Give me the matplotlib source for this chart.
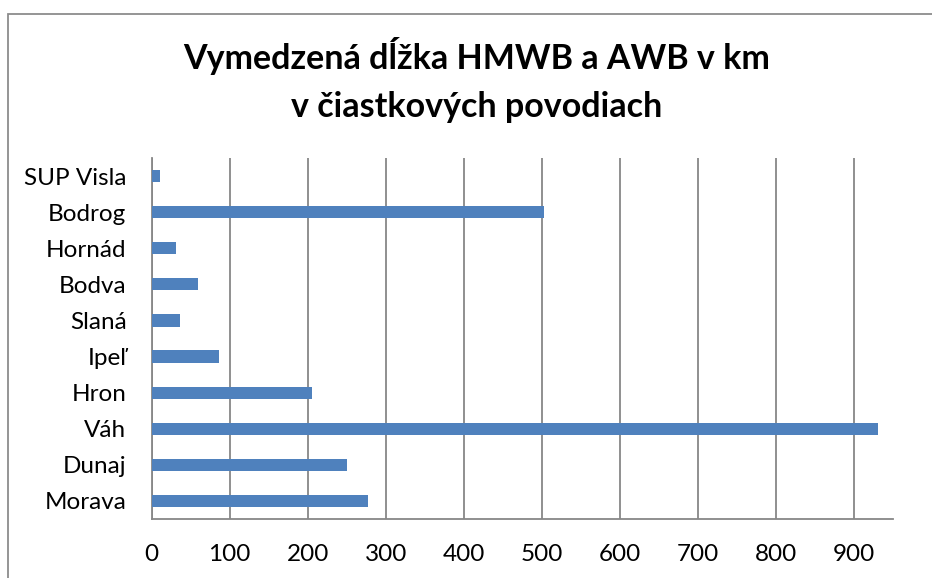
import matplotlib
matplotlib.use("Agg")
import matplotlib.pyplot as plt
from matplotlib.patches import Rectangle

# data (km)
basins = ["Morava", "Dunaj", "Váh", "Hron", "Ipeľ", "Slaná",
          "Bodva", "Hornád", "Bodrog", "SUP Visla"]
lengths = [277, 251, 931, 206, 87, 36, 60, 31, 503, 11]
x_ticks = [0, 100, 200, 300, 400, 500, 600, 700, 800, 900]

bar_color = "#4F81BD"
grid_color = "#878787"

plt.rcParams["font.family"] = ["Lato", "DejaVu Sans"]

fig = plt.figure(figsize=(9.32, 5.78), dpi=100)
fig.patch.set_facecolor("white")

# outer chart frame (cropped on right and bottom)
frame = Rectangle((8 / 932, -0.5), 2, 0.5 + (1 - 14 / 578),
                  transform=fig.transFigure, fill=False,
                  edgecolor="#8c8c8c", linewidth=1.3)
fig.patches.append(frame)

ax = fig.add_axes([151.5 / 932, 1 - 519 / 578, (893 - 151.5) / 932, (519 - 158) / 578])

y = range(len(basins))
ax.barh(y, lengths, height=0.34, color=bar_color, zorder=3)

ax.set_xlim(0, 950)
ax.set_ylim(-0.5, len(basins) - 0.5)
ax.set_xticks(x_ticks)
ax.set_xticklabels([str(v) for v in x_ticks])
ax.set_yticks(list(y))
ax.set_yticklabels(basins)

ax.grid(axis="x", color=grid_color, linewidth=1.3, zorder=1)
ax.tick_params(axis="both", length=0, labelsize=17.5, colors="black")
ax.tick_params(axis="x", pad=18)
ax.tick_params(axis="y", pad=18)

for side in ["top", "right"]:
    ax.spines[side].set_visible(False)
for side in ["left", "bottom"]:
    ax.spines[side].set_color(grid_color)
    ax.spines[side].set_linewidth(1.3)

fig.text(0.511, 0.862, "Vymedzená dĺžka HMWB a AWB v km\nv čiastkových povodiach",
         ha="center", va="center", fontsize=24.5, fontweight="bold",
         linespacing=1.6)

fig.savefig("out.png", dpi=100)
